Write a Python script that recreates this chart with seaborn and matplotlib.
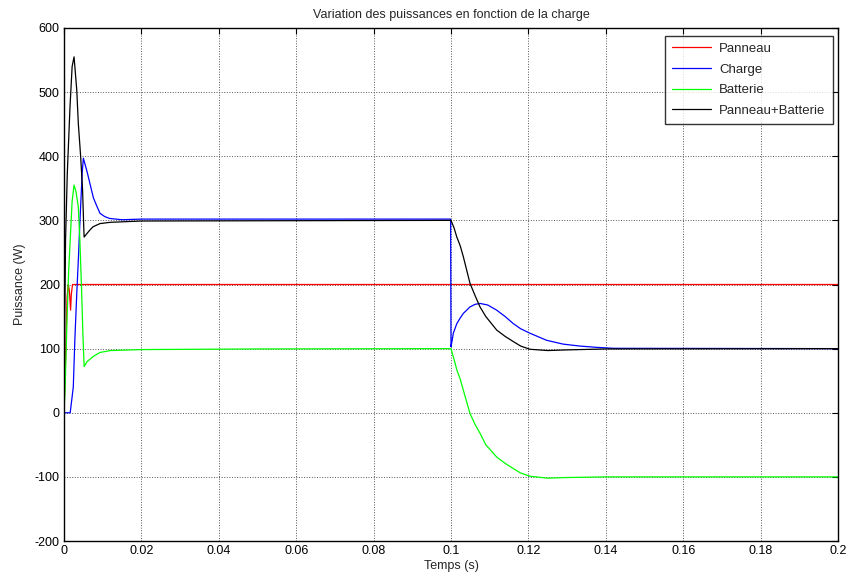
import matplotlib
matplotlib.use("Agg")
import matplotlib.pyplot as plt
import seaborn as sns

sns.set_theme(style="white")
plt.rcParams['font.family'] = ['Liberation Sans', 'DejaVu Sans']
plt.rcParams['axes.unicode_minus'] = False

# ---- data (time in s, power in W) ----
t_panneau = [0.0, 0.0003, 0.0008, 0.0011, 0.0014, 0.0017, 0.0019, 0.0022, 0.05, 0.1, 0.15, 0.2]
p_panneau = [0, 60, 180, 200, 190, 160, 185, 200, 200, 200, 200, 200]

t_charge = [0.0, 0.0016, 0.0024, 0.0028, 0.0033, 0.0037, 0.0041, 0.0047, 0.0050,
            0.0060, 0.0070, 0.0076, 0.0085, 0.0093, 0.0105, 0.0118, 0.015, 0.02,
            0.0999, 0.1000, 0.1003, 0.1006, 0.1015, 0.1024, 0.1032, 0.1049, 0.1062,
            0.1075, 0.1095, 0.1118, 0.1140, 0.1161, 0.1180, 0.1204, 0.1247,
            0.1290, 0.1333, 0.1376, 0.142, 0.2]
p_charge = [0, 0, 40, 113, 186, 238, 296, 374, 397,
            375, 350, 335, 322, 311, 306, 303, 301, 302,
            302, 103, 113, 124, 139, 148, 155, 165, 169,
            170.5, 168, 160, 150, 139, 131, 124, 113,
            107, 104, 102, 100.5, 100]

t_batterie = [0.0, 0.0003, 0.0008, 0.0012, 0.0016, 0.0021, 0.0026, 0.0031, 0.0037,
              0.0041, 0.0045, 0.0049, 0.0052, 0.0060, 0.0070, 0.0076, 0.0093, 0.012,
              0.02, 0.05, 0.1, 0.1008, 0.1015, 0.1024, 0.1032, 0.1049, 0.1062,
              0.1075, 0.1090, 0.1118, 0.1140, 0.1161, 0.1180, 0.1204, 0.125,
              0.13, 0.14, 0.2]
p_batterie = [0, 40, 150, 220, 269, 330, 355, 345, 321,
              269, 200, 120, 72, 80, 85, 88, 94, 97,
              98.5, 99.5, 100, 83, 67, 52, 35, -1, -18,
              -32, -50, -69, -79, -87, -94, -99, -102,
              -101, -100, -100]

t_total = [0.0, 0.0002, 0.0004, 0.00085, 0.00155, 0.0021, 0.0026, 0.0033, 0.0037,
           0.0043, 0.0048, 0.0051, 0.0052, 0.0060, 0.0067, 0.0075, 0.0093, 0.012,
           0.02, 0.1, 0.1008, 0.1015, 0.1024, 0.1032, 0.1049, 0.1062, 0.1075,
           0.1090, 0.1118, 0.1140, 0.1161, 0.1180, 0.1204, 0.125, 0.13,
           0.14, 0.2]
p_total = [0, 150, 269, 373, 477, 540, 555, 503, 451,
           400, 347, 290, 274, 280, 285, 290, 295, 297,
           299, 300, 288, 274, 260, 243, 202, 183, 165,
           150, 129, 119, 111, 104, 99, 97, 98,
           99.5, 100]

labels = ["Panneau", "Charge", "Batterie", "Panneau+Batterie"]
colors = ["#ff0000", "#0000ff", "#00ff00", "#000000"]
x_ticks = [0, 0.02, 0.04, 0.06, 0.08, 0.1, 0.12, 0.14, 0.16, 0.18, 0.2]
x_ticklabels = ["0", "0.02", "0.04", "0.06", "0.08", "0.1", "0.12", "0.14", "0.16", "0.18", "0.2"]
y_ticks = [-200, -100, 0, 100, 200, 300, 400, 500, 600]

fig = plt.figure(figsize=(8.49, 5.84), dpi=100)
ax = fig.add_axes([64 / 849, 1 - 541 / 584, (838 - 64) / 849, (541 - 28) / 584])

series = [(t_panneau, p_panneau), (t_charge, p_charge), (t_batterie, p_batterie), (t_total, p_total)]
for (t, p), lab, col in zip(series, labels, colors):
    sns.lineplot(x=t, y=p, ax=ax, color=col, label=lab, linewidth=0.9,
                 estimator=None, sort=False)

ax.set_xlim(0, 0.2)
ax.set_ylim(-200, 600)
ax.set_xticks(x_ticks)
ax.set_xticklabels(x_ticklabels)
ax.set_yticks(y_ticks)
ax.grid(True, color="#555555", linestyle=":", linewidth=0.7)
ax.tick_params(direction="in", length=4, width=0.8, top=True, right=True,
               labelsize=9, colors="black", pad=3)
for s in ax.spines.values():
    s.set_color("black")
    s.set_linewidth(1.0)

ax.set_title("Variation des puissances en fonction de la charge", fontsize=9, pad=7)
ax.set_xlabel("Temps (s)", fontsize=9, labelpad=2)
ax.set_ylabel("Puissance (W)", fontsize=9, labelpad=6)

leg = ax.legend(loc="upper right", bbox_to_anchor=(1.0, 1.0 - 2.5 / 513),
                fontsize=9.5, frameon=True, fancybox=False,
                edgecolor="black", handlelength=3.0, handletextpad=0.6,
                borderpad=0.55, labelspacing=0.64, borderaxespad=0.38)
leg.get_frame().set_linewidth(1.0)

fig.savefig("out.png", dpi=100)
